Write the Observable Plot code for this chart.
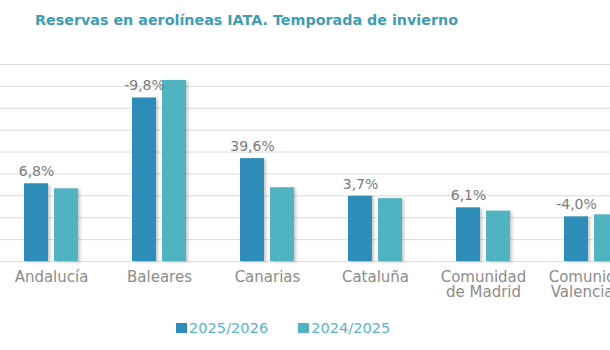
<!DOCTYPE html>
<html><head><meta charset="utf-8">
<script src="https://cdn.jsdelivr.net/npm/d3@7"></script>
<script src="https://cdn.jsdelivr.net/npm/@observablehq/plot@0.6"></script>
<style>
html,body{margin:0;padding:0;background:#fff;overflow:hidden;}
#wrap{width:610px;height:350px;position:relative;overflow:hidden;}
#title{height:40px;line-height:40px;padding-left:35px;font-family:"DejaVu Sans";font-weight:bold;font-size:14.3px;color:#3f9db3;white-space:nowrap;}
#chart{position:relative;width:610px;height:265px;}
#chart svg{display:block;position:absolute;left:0;top:0;}
#chart g[aria-label="bar"] rect{filter:drop-shadow(2px 1px 1.5px rgba(0,0,0,0.22));}
#legend{height:45px;display:flex;align-items:center;padding-left:176px;gap:30px;font-family:"DejaVu Sans";font-size:14.6px;color:#5ab4c8;}
#legend .item{display:flex;align-items:center;}
#legend .sw{width:11px;height:10px;margin-right:2px;}
</style></head><body>
<div id="wrap"><div id="title"></div><div id="chart"></div><div id="legend"></div></div>
<script>
const title = "Reservas en aerolíneas IATA. Temporada de invierno";
const regions = ["Andalucía", "Baleares", "Canarias", "Cataluña", "Comunidad de Madrid", "Comunidad Valenciana"];
const regionLabels = ["Andalucía", "Baleares", "Canarias", "Cataluña", "Comunidad\nde Madrid", "Comunidad\nValenciana"];
const series = ["2025/2026", "2024/2025"];
const v2025 = [3.55, 7.47, 4.70, 2.98, 2.45, 2.04];
const v2024 = [3.32, 8.27, 3.37, 2.87, 2.30, 2.13];
const changes = [6.8, -9.8, 39.6, 3.7, 6.1, -4.0];
const colors = ["#2e8db8", "#4fb3c2"];
const gridTicks = [0, 1, 2, 3, 4, 5, 6, 7, 8, 9];

document.getElementById("title").textContent = title;

const fmt = c => (c < 0 ? "-" : "") + Math.abs(c).toFixed(1).replace(".", ",") + "%";
const rows = regions.flatMap((r, i) => [
  {region: r, series: series[0], value: v2025[i]},
  {region: r, series: series[1], value: v2024[i]}
]);
const labels = regions.map((r, i) => ({region: r, series: series[0], value: v2025[i], text: fmt(changes[i])}));

const dims = {width: 610, height: 265, marginTop: 24, marginBottom: 44, marginLeft: 0, marginRight: 0};
const yScale = {domain: [0, 9], axis: null};

// gridlines layer (full width)
const grid = Plot.plot({
  ...dims,
  y: yScale,
  style: {background: "white"},
  marks: [Plot.ruleY(gridTicks, {y: d => d, stroke: "#dcdcdc"})]
});

const chart = Plot.plot({
  ...dims,
  fx: {domain: regions, range: [-5.3, 646.3], paddingInner: 0.484, paddingOuter: 0.242, label: null},
  x: {domain: series, paddingInner: 0.19, paddingOuter: 0, axis: null},
  y: yScale,
  color: {domain: series, range: colors},
  style: {fontFamily: "DejaVu Sans", background: "transparent"},
  marks: [
    Plot.barY(rows, {fx: "region", x: "series", y: "value", fill: "series"}),
    Plot.text(labels, {fx: "region", x: "series", y: "value", text: "text", dy: -12, fontSize: 14, fill: "#7a7a7a"}),
    Plot.axisFx({anchor: "bottom", tickSize: 0, tickPadding: 9, fontSize: 15, lineHeight: 1.05, color: "#8c8c8c", label: null,
      tickFormat: d => regionLabels[regions.indexOf(d)]})
  ]
});
const holder = document.getElementById("chart");
holder.appendChild(grid);
holder.appendChild(chart);

const legend = document.getElementById("legend");
series.forEach((s, i) => {
  const item = document.createElement("div");
  item.className = "item";
  const sw = document.createElement("span");
  sw.className = "sw";
  sw.style.background = colors[i];
  const t = document.createElement("span");
  t.textContent = s;
  item.appendChild(sw); item.appendChild(t);
  legend.appendChild(item);
});
</script>
</body></html>
